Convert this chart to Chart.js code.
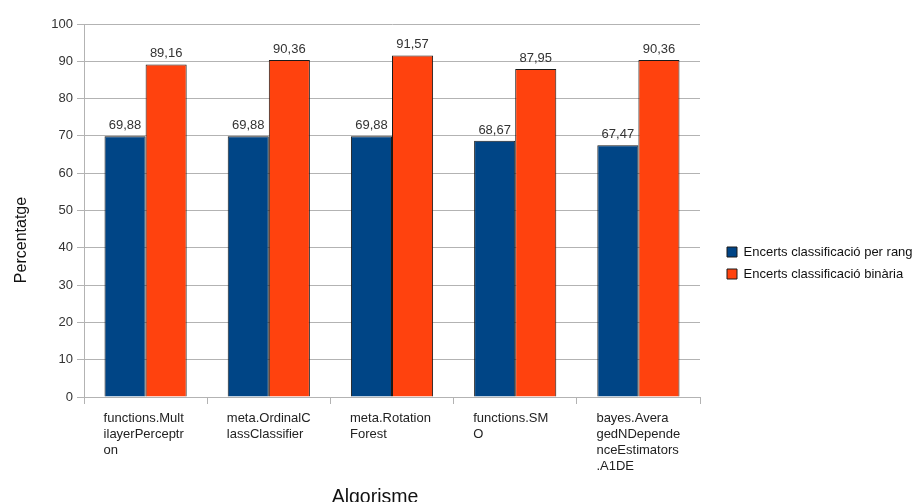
<!DOCTYPE html>
<html>
<head>
<meta charset="utf-8">
<script src="https://cdn.jsdelivr.net/npm/chart.js@4/dist/chart.umd.min.js"></script>
<style>
  html, body { margin: 0; padding: 0; background: #ffffff; }
  #wrap { width: 921px; height: 502px; position: relative; }
</style>
</head>
<body>
<div id="wrap"><canvas id="chart" width="921" height="502"></canvas></div>
<script>
// Algorithm names, wrapped the way they appear under each group
const categories = [
  ['functions.Mult', 'ilayerPerceptr', 'on'],
  ['meta.OrdinalC', 'lassClassifier'],
  ['meta.Rotation', 'Forest'],
  ['functions.SM', 'O'],
  ['bayes.Avera', 'gedNDepende', 'nceEstimators', '.A1DE']
];
const seriesNames = ['Encerts classificació per rang', 'Encerts classificació binària'];
const rangValues = [69.88, 69.88, 69.88, 68.67, 67.47];
const binariaValues = [89.16, 90.36, 91.57, 87.95, 90.36];
const yTicks = [0, 10, 20, 30, 40, 50, 60, 70, 80, 90, 100];

const FONT = 'Liberation Sans, Arial, sans-serif';
const GRID = '#b3b3b3';

// Room reserved on the right for the legend, and its inset from the plot
const LEGEND_WIDTH = 221;
const LEGEND_INSET = 18;

const fmt = v => v.toFixed(2).replace('.', ',');

// Give the legend a fixed-width column and push its entries away from the plot
const legendColumn = {
  id: 'legendColumn',
  afterInit(chart) {
    const legend = chart.legend;
    if (!legend) return;
    const fit = legend.fit.bind(legend);
    legend.fit = function () {
      fit();
      this.width = LEGEND_WIDTH;
    };
  },
  afterLayout(chart) {
    const legend = chart.legend;
    if (!legend) return;
    legend.left += LEGEND_INSET;
    legend.right += LEGEND_INSET;
  }
};

// Value labels above each bar plus the two axis titles
const annotate = {
  id: 'annotate',
  afterDatasetsDraw(chart) {
    const ctx = chart.ctx;
    ctx.save();
    ctx.fillStyle = '#333333';
    ctx.font = '13px ' + FONT;
    ctx.textAlign = 'center';
    ctx.textBaseline = 'alphabetic';
    chart.data.datasets.forEach((ds, di) => {
      chart.getDatasetMeta(di).data.forEach((bar, i) => {
        ctx.fillText(fmt(ds.data[i]), bar.x, bar.y - 7);
      });
    });
    ctx.fillStyle = '#111111';
    ctx.font = '19.5px ' + FONT;
    ctx.fillText('Algorisme', 375, 503);
    ctx.font = '16px ' + FONT;
    ctx.translate(26, 240);
    ctx.rotate(-Math.PI / 2);
    ctx.fillText('Percentatge', 0, 0);
    ctx.restore();
  }
};

new Chart(document.getElementById('chart'), {
  type: 'bar',
  data: {
    labels: categories,
    datasets: [
      {
        label: seriesNames[0],
        data: rangValues,
        backgroundColor: '#004586',
        borderColor: '#1a1a1a',
        borderWidth: 1
      },
      {
        label: seriesNames[1],
        data: binariaValues,
        backgroundColor: '#ff420e',
        borderColor: '#1a1a1a',
        borderWidth: 1
      }
    ]
  },
  options: {
    responsive: false,
    animation: false,
    devicePixelRatio: 1,
    layout: { padding: { top: 24, right: 0, left: 0, bottom: 0 } },
    datasets: {
      bar: { barPercentage: 1, categoryPercentage: 0.667 }
    },
    plugins: {
      tooltip: { enabled: false },
      legend: {
        position: 'right',
        align: 'center',
        labels: {
          boxWidth: 10,
          boxHeight: 10,
          padding: 9,
          color: '#111111',
          font: { family: FONT, size: 13 }
        }
      }
    },
    scales: {
      x: {
        offset: true,
        grid: {
          offset: true,
          drawOnChartArea: true,
          color: c => (c.index === categories.length ? GRID : 'rgba(0,0,0,0)'),
          tickColor: GRID,
          tickLength: 7
        },
        border: { color: GRID },
        ticks: {
          autoSkip: false,
          maxRotation: 0,
          align: 'start',
          labelOffset: -42,
          padding: 6,
          color: '#222222',
          font: { family: FONT, size: 13, lineHeight: 1.25 }
        },
        afterFit(scale) { scale.height = 105; }
      },
      y: {
        min: 0,
        max: 100,
        afterBuildTicks(scale) { scale.ticks = yTicks.map(v => ({ value: v })); },
        grid: { color: GRID, tickColor: GRID, tickLength: 7 },
        border: { color: GRID },
        ticks: {
          padding: 4,
          color: '#333333',
          font: { family: FONT, size: 13 }
        },
        afterFit(scale) { scale.width = 84; }
      }
    }
  },
  plugins: [legendColumn, annotate]
});
</script>
</body>
</html>
